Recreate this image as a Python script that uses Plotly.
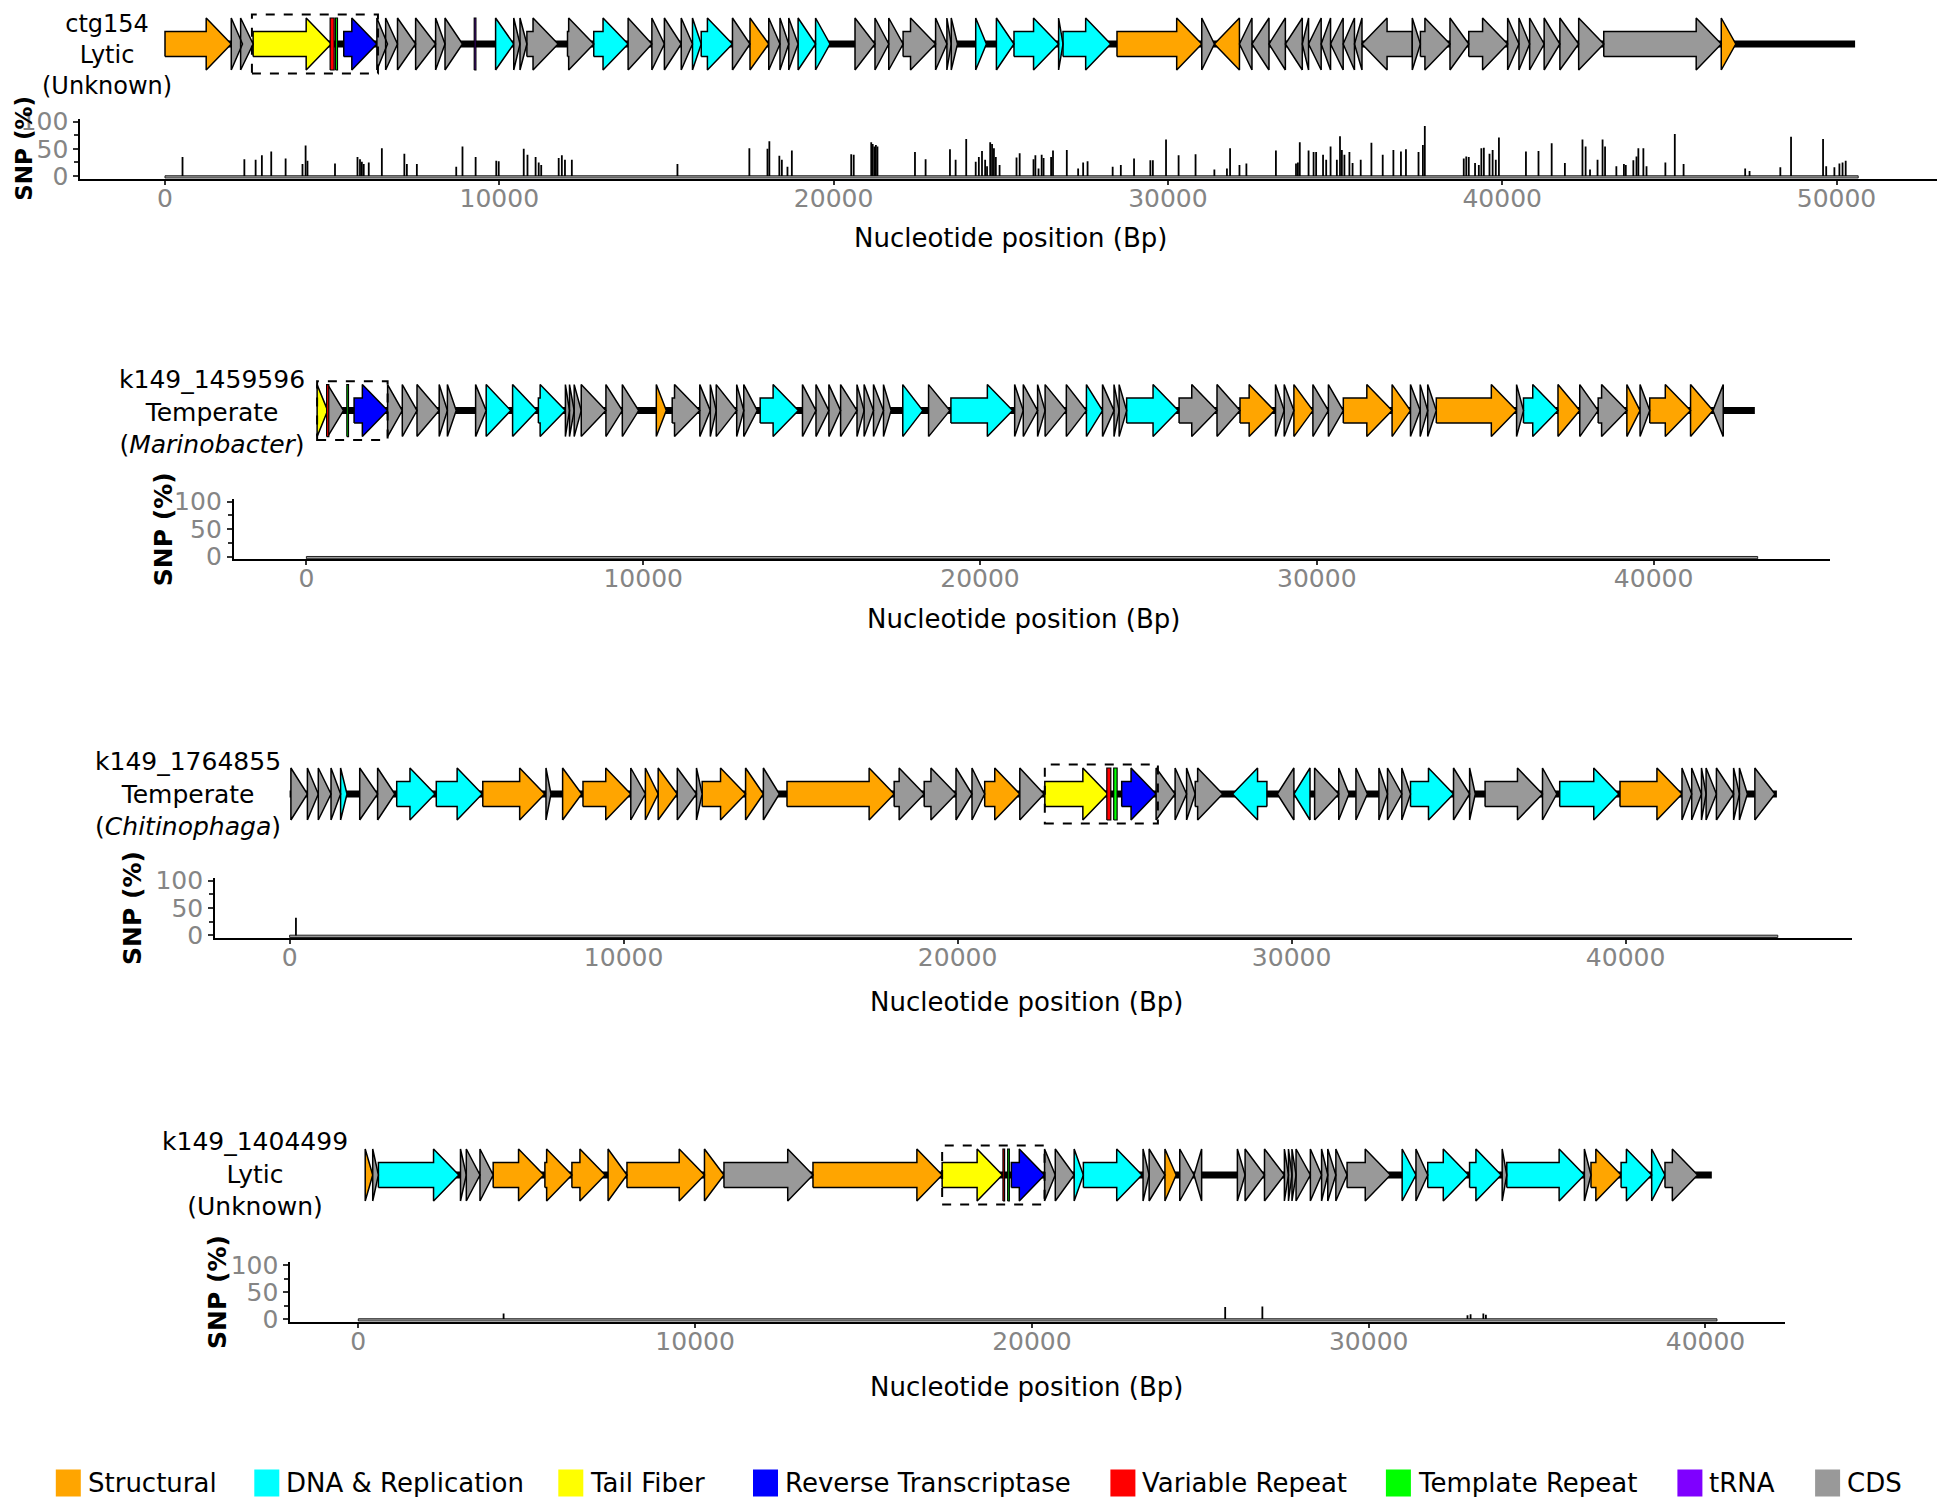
import plotly.graph_objects as go

# ---------------- data ----------------
contigs = ["ctg154", "k149_1459596", "k149_1764855", "k149_1404499"]
lifestyles = ["Lytic", "Temperate", "Temperate", "Lytic"]
hosts = ["(Unknown)", "(<i>Marinobacter</i>)", "(<i>Chitinophaga</i>)", "(Unknown)"]

category_codes = ["S", "D", "T", "R", "V", "P", "N", "C"]
category_labels = ["Structural", "DNA & Replication", "Tail Fiber", "Reverse Transcriptase",
                   "Variable Repeat", "Template Repeat", "tRNA", "CDS"]
category_colors = ["#FFA500", "#00FFFF", "#FFFF00", "#0000FF",
                   "#FF0000", "#00FF00", "#7F00FF", "#999999"]

# genes: (start, end, strand, category)
genes_ctg154 = [
    (0, 1982, 1, "S"), (1982, 2318, 1, "C"), (2262, 2636, 1, "C"), (2636, 4973, 1, "T"),
    (5347, 6338, 1, "R"), (6338, 6656, 1, "C"), (6600, 6955, 1, "C"), (6955, 7497, 1, "C"),
    (7497, 8095, 1, "C"), (8095, 8376, 1, "C"), (8376, 8899, 1, "C"),
    (9889, 10432, 1, "D"), (10432, 10619, 1, "C"), (10619, 10825, 1, "C"), (10825, 11759, 1, "C"),
    (12040, 12825, 1, "C"), (12825, 13853, 1, "D"), (13853, 14564, 1, "C"), (14564, 14938, 1, "C"),
    (14938, 15442, 1, "C"), (15442, 15779, 1, "C"), (15779, 16040, 1, "D"), (16040, 16975, 1, "D"),
    (16975, 17499, 1, "C"), (17499, 18060, 1, "S"), (18060, 18396, 1, "C"), (18396, 18658, 1, "C"),
    (18658, 18938, 1, "C"), (18938, 19461, 1, "D"), (19461, 19892, 1, "D"),
    (20640, 21238, 1, "C"), (21238, 21650, 1, "C"), (21650, 22079, 1, "C"), (22079, 23051, 1, "C"),
    (23051, 23389, 1, "C"), (23389, 23519, 1, "C"), (23519, 23706, 1, "C"),
    (24251, 24571, 1, "D"), (24870, 25396, 1, "D"), (25396, 26731, 1, "D"), (26731, 26862, 1, "D"),
    (26862, 28290, 1, "D"), (28477, 31013, 1, "S"), (31013, 31390, 1, "C"),
    (31390, 32141, -1, "S"), (32141, 32515, -1, "C"), (32515, 33024, -1, "C"), (33024, 33514, -1, "C"),
    (33514, 34020, -1, "C"), (34020, 34208, -1, "C"), (34208, 34585, -1, "C"), (34585, 34866, -1, "C"),
    (34866, 35243, -1, "C"), (35243, 35581, -1, "C"), (35581, 35806, -1, "C"), (35806, 37310, -1, "C"),
    (37310, 37553, 1, "C"), (37553, 38438, 1, "C"), (38438, 39000, 1, "C"), (39000, 40163, 1, "C"),
    (40163, 40501, 1, "C"), (40501, 40821, 1, "C"), (40821, 41255, 1, "C"), (41255, 41725, 1, "C"),
    (41725, 42287, 1, "C"), (42287, 43038, 1, "C"), (43038, 46553, 1, "C"), (46553, 46987, 1, "S"),
]
genes_k149_1459596 = [
    (318, 632, 1, "T"), (632, 1101, 1, "C"), (1416, 2411, 1, "R"), (2411, 2847, 1, "C"),
    (2847, 3284, 1, "C"), (3284, 3943, 1, "C"), (3943, 4186, 1, "C"), (4186, 4448, 1, "C"),
    (5024, 5338, 1, "C"), (5338, 6069, 1, "D"), (6122, 6852, 1, "D"), (6888, 7690, 1, "D"),
    (7690, 7812, 1, "C"), (7812, 7951, 1, "C"), (7951, 8160, 1, "C"), (8160, 8893, 1, "C"),
    (8893, 9380, 1, "C"), (9380, 9866, 1, "C"), (10389, 10686, 1, "S"), (10861, 11680, 1, "C"),
    (11680, 11993, 1, "C"), (11993, 12168, 1, "C"), (12168, 12776, 1, "C"), (12776, 12986, 1, "C"),
    (12986, 13387, 1, "C"), (13473, 14607, 1, "D"), (14729, 15130, 1, "C"), (15130, 15513, 1, "C"),
    (15513, 15861, 1, "C"), (15861, 16348, 1, "C"), (16348, 16559, 1, "C"), (16559, 16838, 1, "C"),
    (16838, 17135, 1, "C"), (17135, 17360, 1, "C"), (17707, 18301, 1, "D"), (18473, 19103, 1, "C"),
    (19136, 20968, 1, "D"), (21029, 21285, 1, "C"), (21285, 21710, 1, "C"), (21710, 21933, 1, "C"),
    (21933, 22563, 1, "C"), (22563, 23160, 1, "C"), (23160, 23638, 1, "D"), (23638, 23979, 1, "C"),
    (23979, 24131, 1, "C"), (24131, 24354, 1, "C"), (24354, 25888, 1, "D"), (25911, 27037, 1, "C"),
    (27037, 27720, 1, "C"), (27720, 28741, 1, "S"), (28774, 29032, 1, "C"), (29032, 29320, 1, "C"),
    (29320, 29884, 1, "S"), (29884, 30344, 1, "C"), (30344, 30787, 1, "C"), (30787, 32235, 1, "S"),
    (32235, 32782, 1, "S"), (32782, 33070, 1, "C"), (33070, 33293, 1, "C"), (33293, 33548, 1, "C"),
    (33548, 35932, 1, "S"), (35932, 36137, 1, "C"), (36137, 37161, 1, "D"), (37161, 37808, 1, "S"),
    (37808, 38354, 1, "C"), (38354, 39206, 1, "C"), (39206, 39598, 1, "S"), (39598, 39886, 1, "C"),
    (39886, 41097, 1, "S"), (41097, 41762, 1, "S"), (41762, 42068, -1, "C"),
]
genes_k149_1764855 = [
    (39, 533, 1, "C"), (533, 859, 1, "C"), (859, 1240, 1, "C"), (1240, 1527, 1, "C"),
    (1527, 1719, 1, "D"), (2099, 2635, 1, "C"), (2635, 3150, 1, "C"), (3207, 4353, 1, "D"),
    (4392, 5766, 1, "D"), (5784, 7638, 1, "S"), (7676, 7826, 1, "C"), (8174, 8746, 1, "S"),
    (8784, 10215, 1, "S"), (10215, 10652, 1, "C"), (10652, 11035, 1, "S"), (11035, 11607, 1, "S"),
    (11607, 12182, 1, "C"), (12182, 12353, 1, "C"), (12353, 13652, 1, "S"), (13652, 14185, 1, "S"),
    (14185, 14664, 1, "C"), (14892, 18101, 1, "S"), (18101, 19000, 1, "C"), (19000, 19952, 1, "C"),
    (19952, 20431, 1, "C"), (20431, 20811, 1, "C"), (20811, 21862, 1, "S"), (21862, 22587, 1, "C"),
    (22611, 24500, 1, "T"), (24913, 25943, 1, "R"), (25943, 26512, 1, "C"), (26512, 26856, 1, "C"),
    (26856, 27114, 1, "C"), (27114, 27937, 1, "C"), (28231, 29261, -1, "D"), (29572, 30069, -1, "C"),
    (30069, 30551, -1, "D"), (30689, 31411, 1, "C"), (31411, 31720, 1, "C"), (31926, 32270, 1, "C"),
    (32614, 32872, 1, "C"), (32872, 33300, 1, "C"), (33300, 33560, 1, "C"), (33560, 34848, 1, "D"),
    (34848, 35330, 1, "C"), (35330, 35500, 1, "C"), (35793, 37512, 1, "C"), (37512, 37940, 1, "C"),
    (38027, 39796, 1, "D"), (39832, 41688, 1, "S"), (41688, 41979, 1, "C"), (41979, 42272, 1, "C"),
    (42272, 42410, 1, "C"), (42410, 42719, 1, "C"), (42719, 43234, 1, "C"), (43234, 43408, 1, "C"),
    (43408, 43647, 1, "C"), (43870, 44471, 1, "C"),
]
genes_k149_1404499 = [
    (205, 428, 1, "S"), (428, 597, 1, "C"), (597, 2984, 1, "D"), (3034, 3207, 1, "C"),
    (3207, 3613, 1, "C"), (3613, 4005, 1, "C"), (4005, 5508, 1, "S"), (5540, 6342, 1, "S"),
    (6342, 7330, 1, "S"), (7416, 7977, 1, "S"), (7977, 10278, 1, "S"), (10278, 10857, 1, "S"),
    (10857, 13500, 1, "C"), (13500, 17335, 1, "S"), (17335, 19123, 1, "T"), (19390, 20376, 1, "R"),
    (20376, 20694, 1, "C"), (20694, 21255, 1, "C"), (21255, 21528, 1, "D"), (21528, 23268, 1, "D"),
    (23300, 23481, 1, "C"), (23481, 23950, 1, "C"), (23950, 24283, 1, "S"), (24390, 24814, 1, "C"),
    (24814, 25040, -1, "C"), (26101, 26330, 1, "C"), (26330, 26906, 1, "C"), (26906, 27497, 1, "C"),
    (27497, 27618, 1, "C"), (27618, 27722, 1, "C"), (27722, 27843, 1, "C"), (27843, 28268, 1, "C"),
    (28268, 28601, 1, "C"), (28601, 28785, 1, "C"), (28785, 29025, 1, "C"), (29025, 29358, 1, "C"),
    (29358, 30647, 1, "C"), (30993, 31403, 1, "D"), (31403, 31753, 1, "C"), (31753, 32964, 1, "D"),
    (32995, 33933, 1, "D"), (33963, 34100, 1, "C"), (34100, 36404, 1, "D"), (36404, 36600, 1, "C"),
    (36600, 37494, 1, "S"), (37494, 38402, 1, "D"), (38402, 38797, 1, "D"), (38797, 39765, 1, "C"),
]
genes = [genes_ctg154, genes_k149_1459596, genes_k149_1764855, genes_k149_1404499]

# repeats / tRNA features: (start, end, category)
features_ctg154 = [(4940, 5060, "V"), (5100, 5160, "P"), (9250, 9300, "N")]
features_k149_1459596 = [(600, 665, "V"), (1200, 1250, "P")]
features_k149_1764855 = [(24467, 24587, "V"), (24674, 24776, "P")]
features_k149_1404499 = [(19140, 19190, "V"), (19280, 19330, "P")]
features = [features_ctg154, features_k149_1459596, features_k149_1764855, features_k149_1404499]

# DGR boxes (bp)
dgr_boxes = [(2600, 6370), (318, 2411), (22611, 25997), (17335, 20376)]

track_start = [0, 318, 0, 205]
track_end = [50556, 43006, 44530, 40188]
snp_length = [50649, 43090, 44556, 40340]

# SNP positions (bp) and frequencies (%)
snp_pos_ctg154 = [524, 2374, 2711, 2898, 3178, 3608, 4113, 4206, 4262, 5085, 5758, 5833, 5889, 5945, 6095,
                  6487, 7160, 7235, 7534, 8712, 8899, 9292, 9909, 9983, 10731, 10843, 11086, 11179, 11254,
                  11777, 11871, 11964, 12170, 15329, 17480, 18022, 18078, 18377, 18452, 18620, 18751,
                  20527, 20602, 21126, 21170, 21220, 21265, 21312, 22434, 22752, 23481, 23650, 23967,
                  24251, 24345, 24439, 24533, 24590, 24684, 24740, 24796, 24853, 24965, 25472, 25566,
                  25980, 26036, 26130, 26224, 26281, 26506, 26563, 26976, 27315, 27465, 27597, 28348,
                  28592, 28987, 29475, 29550, 29944, 30320, 30827, 31390, 31766, 31860, 32141, 32348,
                  33231, 33832, 33889, 33945, 34208, 34358, 34434, 34641, 34735, 34866, 35054, 35148,
                  35204, 35280, 35430, 35524, 35768, 36088, 36426, 36745, 36971, 37121, 37497, 37628,
                  37685, 38850, 38925, 39000, 39188, 39301, 39376, 39451, 39620, 39714, 39808, 39902,
                  40710, 41086, 41480, 41875, 42401, 42495, 42627, 42852, 43002, 43077, 43415, 43641,
                  43697, 43923, 44017, 44073, 44223, 44317, 44881, 45163, 45426, 47268, 47399, 48320,
                  48640, 49598, 49692, 49937, 50087, 50181, 50275]
snp_val_ctg154 = [35, 31, 30, 38, 45, 32, 22, 56, 28, 23, 35, 31, 26, 22, 25,
                  51, 41, 22, 22, 17, 54, 35, 28, 27, 50, 39, 35, 25, 20,
                  33, 38, 30, 30, 22, 51, 50, 64, 37, 30, 17, 47,
                  40, 39, 62, 59, 54, 57, 54, 44, 31, 49, 30, 68,
                  26, 35, 46, 30, 18, 62, 59, 51, 35, 20, 34, 42,
                  31, 38, 14, 39, 33, 35, 47, 48, 14, 25, 27, 17,
                  20, 32, 29, 29, 67, 38, 40, 12, 14, 51, 20, 23,
                  47, 23, 25, 62, 47, 44, 44, 39, 30, 54, 30, 73,
                  48, 39, 44, 24, 30, 61, 39, 48, 45, 49, 44, 57,
                  92, 32, 36, 35, 24, 20, 51, 52, 41, 48, 30, 71,
                  45, 46, 60, 24, 67, 54, 12, 30, 67, 54, 18, 22,
                  20, 29, 36, 51, 51, 18, 25, 77, 22, 14, 9, 16,
                  72, 68, 18, 16, 23, 25, 28]
snp_pos_k149_1459596 = []
snp_val_k149_1459596 = []
snp_pos_k149_1764855 = [190]
snp_val_k149_1764855 = [32]
snp_pos_k149_1404499 = [4314, 25739, 26843, 32933, 33025, 33404, 33480]
snp_val_k149_1404499 = [10, 22, 23, 7, 9, 10, 8]
snp_pos = [snp_pos_ctg154, snp_pos_k149_1459596, snp_pos_k149_1764855, snp_pos_k149_1404499]
snp_val = [snp_val_ctg154, snp_val_k149_1459596, snp_val_k149_1764855, snp_val_k149_1404499]

x_ticks = [[0, 10000, 20000, 30000, 40000, 50000],
           [0, 10000, 20000, 30000, 40000],
           [0, 10000, 20000, 30000, 40000],
           [0, 10000, 20000, 30000, 40000]]
y_ticks = [0, 50, 100]

# ---------------- layout geometry (pixels, as seen on the page) ----------------
W, H = 1945, 1497
OFF = 8  # page body margin
FONT = "DejaVu Sans"
zero_px = [165, 306.4, 289.6, 358.3]
px_per_bp = [0.03343, 0.03368, 0.0334, 0.03368]
gene_center_px = [44, 410.6, 794, 1175]
snp_zero_px = [176, 556.7, 935.4, 1319]
snp_px_per_pct = [0.544, 0.55, 0.549, 0.54]
label_x_px = [107, 211.5, 187.6, 254.8]
label_center_px = [55, 411.5, 794, 1174]
label_font = [24, 25, 25, 25]
snp_title_x_px = [24, 163, 133, 217]
snp_title_font = [23, 25, 25, 25]
xtitle_px = [(1010, 238), (1024, 619), (1026, 1001.5), (1026, 1386.7)]
UNIT_PX = 26.0
HEAD_BP = 750
BODY = 0.48

legend_sq_x = [55.8, 254.3, 558.3, 753, 1110.4, 1385.9, 1677.4, 1815.1]
legend_y = 1483


def px_x(p):
    return (p - OFF) / W


def px_y(p):
    return 1 - (p - OFF) / H


def arrow(s, e, strand):
    ln = e - s
    h = min(HEAD_BP, ln)
    if strand > 0:
        if h >= ln:
            return [s, e, s, s], [-1, 0, 1, -1]
        b = e - h
        return [s, b, b, e, b, b, s, s], [-BODY, -BODY, -1, 0, 1, BODY, BODY, -BODY]
    if h >= ln:
        return [e, s, e, e], [-1, 0, 1, -1]
    b = s + h
    return [e, b, b, s, b, b, e, e], [-BODY, -BODY, -1, 0, 1, BODY, BODY, -BODY]


color_of = dict(zip(category_codes, category_colors))

fig = go.Figure()
layout = dict(width=W, height=H,
              margin=dict(l=0, r=0, t=0, b=0, pad=0, autoexpand=False),
              autosize=False,
              paper_bgcolor="white", plot_bgcolor="white", showlegend=False,
              font=dict(family=FONT, color="black"))
shapes = []
annotations = []

for i in range(4):
    gx = f"x{2 * i + 1}"
    gy = f"y{2 * i + 1}"
    sx = f"x{2 * i + 2}"
    sy = f"y{2 * i + 2}"
    L = snp_length[i]
    xr = [-0.05 * L, 1.05 * L]
    left = zero_px[i] + xr[0] * px_per_bp[i]
    right = zero_px[i] + xr[1] * px_per_bp[i]
    xdom = [max(0.0, px_x(left)), min(1.0, px_x(right))]

    # gene track axis
    c = gene_center_px[i]
    layout[f"xaxis{2 * i + 1}"] = dict(domain=xdom, range=xr, visible=False, anchor=gy,
                                       automargin=False)
    layout[f"yaxis{2 * i + 1}"] = dict(domain=[px_y(c + 1.2 * UNIT_PX), min(1.0, px_y(c - 1.2 * UNIT_PX))],
                                       range=[-1.2, 1.2], visible=False, anchor=gx, automargin=False)
    # backbone
    fig.add_trace(go.Scatter(x=[track_start[i], track_end[i]], y=[0, 0], mode="lines",
                             line=dict(color="black", width=7), xaxis=gx, yaxis=gy, hoverinfo="skip"))
    # genes per category
    for code in category_codes:
        xs, ys = [], []
        for (s, e, strand, cat) in genes[i]:
            if cat != code:
                continue
            ax, ay = arrow(s, e, strand)
            xs += ax + [None]
            ys += ay + [None]
        if xs:
            fig.add_trace(go.Scatter(x=xs, y=ys, mode="lines", fill="toself",
                                     fillcolor=color_of[code], line=dict(color="black", width=1.5),
                                     name=category_labels[category_codes.index(code)],
                                     xaxis=gx, yaxis=gy, hoverinfo="name"))
    # repeats / tRNA
    for (s, e, cat) in features[i]:
        fig.add_trace(go.Scatter(x=[s, e, e, s, s], y=[-1, -1, 1, 1, -1], mode="lines", fill="toself",
                                 fillcolor=color_of[cat], line=dict(color="black", width=1.2),
                                 name=category_labels[category_codes.index(cat)],
                                 xaxis=gx, yaxis=gy, hoverinfo="name"))
    # DGR box
    b0, b1 = dgr_boxes[i]
    shapes.append(dict(type="rect", xref=gx, yref=gy, x0=b0, x1=b1, y0=-1.13, y1=1.13,
                       line=dict(color="black", width=2, dash="dash"), layer="above"))

    # SNP axis
    z = snp_zero_px[i]
    ppp = snp_px_per_pct[i]
    layout[f"xaxis{2 * i + 2}"] = dict(
        domain=xdom, range=xr, anchor=sy, showline=True, linecolor="black", linewidth=2,
        ticks="outside", ticklen=4, tickwidth=1.5, tickcolor="#333", tickvals=x_ticks[i],
        ticktext=[str(v) for v in x_ticks[i]], automargin=False, ticklabelstandoff=-8,
        tickfont=dict(family=FONT, size=25, color="#858585"), showgrid=False, zeroline=False)
    layout[f"yaxis{2 * i + 2}"] = dict(
        domain=[px_y(z + 5 * ppp), px_y(z - 105 * ppp)], range=[-5, 105], anchor=sx,
        showline=True, linecolor="black", linewidth=2, ticks="outside", ticklen=5, tickwidth=1.5,
        tickcolor="#333", tickvals=y_ticks, ticktext=[str(v) for v in y_ticks], automargin=False,
        minor=dict(ticks="outside", dtick=25, tick0=0, ticklen=4, tickcolor="#333", tickwidth=1.5),
        tickfont=dict(family=FONT, size=25, color="#858585"), showgrid=False, zeroline=False)
    # SNP coverage band
    shapes.append(dict(type="rect", xref=sx, yref=sy, x0=0, x1=L, y0=-3.8, y1=0.4,
                       fillcolor="#9a9a9a", line=dict(color="#222", width=1), layer="below"))
    # SNP bars
    xs, ys = [], []
    for p, v in zip(snp_pos[i], snp_val[i]):
        xs += [p, p, None]
        ys += [0, v, None]
    fig.add_trace(go.Scatter(x=xs if xs else [0], y=ys if ys else [0], mode="lines",
                             line=dict(color="black", width=1.8), xaxis=sx, yaxis=sy,
                             name="SNP", hoverinfo="x+y"))

    # texts
    label_text = "<br>".join([contigs[i], lifestyles[i], hosts[i]])
    annotations.append(dict(text=label_text, x=px_x(label_x_px[i]), y=px_y(label_center_px[i]),
                            xref="paper", yref="paper", xanchor="center", yanchor="middle",
                            align="center", showarrow=False,
                            font=dict(family=FONT, size=label_font[i], color="black")))
    annotations.append(dict(text="<b>SNP (%)</b>", x=px_x(snp_title_x_px[i]), y=px_y(z - 50 * ppp),
                            xref="paper", yref="paper", xanchor="center", yanchor="middle",
                            textangle=-90, showarrow=False,
                            font=dict(family=FONT, size=snp_title_font[i], color="black")))
    tx, ty = xtitle_px[i]
    annotations.append(dict(text="Nucleotide position (Bp)", x=px_x(tx), y=px_y(ty),
                            xref="paper", yref="paper", xanchor="center", yanchor="middle",
                            showarrow=False, font=dict(family=FONT, size=26, color="black")))

# legend (drawn manually)
for k, lab in enumerate(category_labels):
    x0 = legend_sq_x[k]
    shapes.append(dict(type="rect", xref="paper", yref="paper", x0=px_x(x0), x1=px_x(x0 + 25),
                       y0=px_y(legend_y + 13.5), y1=px_y(legend_y - 13.5),
                       fillcolor=category_colors[k], line=dict(width=0)))
    annotations.append(dict(text=lab, x=px_x(x0 + 30), y=px_y(legend_y), xref="paper", yref="paper",
                            xanchor="left", yanchor="middle", showarrow=False,
                            font=dict(family=FONT, size=26, color="black")))

layout["shapes"] = shapes
layout["annotations"] = annotations
fig.update_layout(**layout)
fig.write_html("out.html")
